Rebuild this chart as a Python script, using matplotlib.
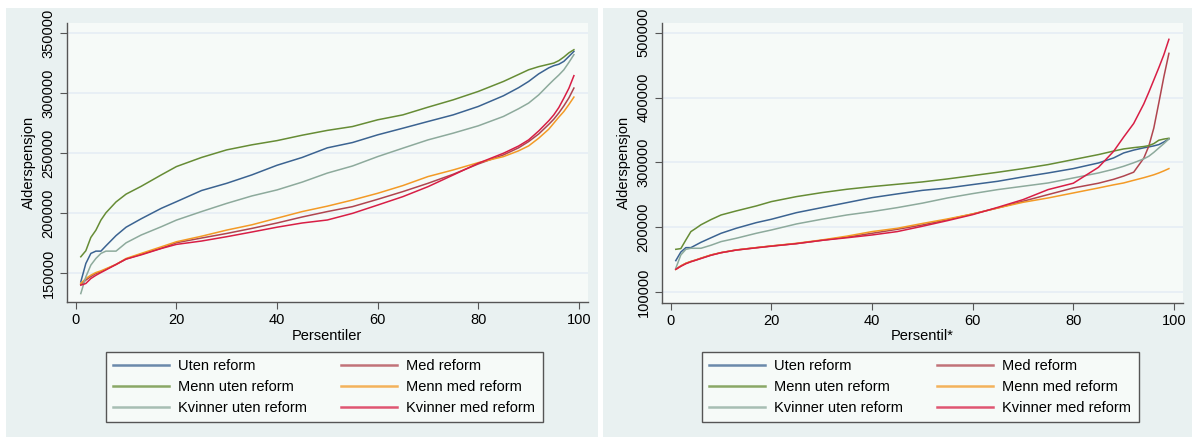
import matplotlib.pyplot as plt
from matplotlib.patches import Rectangle

plt.rcParams['font.family'] = ['Liberation Sans', 'DejaVu Sans']

# percentiles used for the read-off points
pct = [1, 2, 3, 4, 5, 6, 8, 10, 13, 17, 20, 25, 30, 35, 40, 45, 50, 55, 60, 65,
       70, 75, 80, 85, 88, 90, 92, 94, 95, 96, 97, 98, 99]

labels = ["Uten reform", "Med reform", "Menn uten reform", "Menn med reform",
          "Kvinner uten reform", "Kvinner med reform"]
colors = ["#3b6391", "#b0454f", "#668c35", "#f39a26", "#8daa9c", "#d81e45"]

# left panel: Persentiler
left_uten = [143000, 158300, 166700, 168600, 168600, 173000, 181500, 188500, 195500, 204200, 209700,
             219000, 225000, 232000, 240000, 246500, 254500, 258900, 265300, 270800, 276400, 281900,
             288900, 297800, 304500, 309700, 316000, 321000, 322800, 324000, 326400, 330500, 334700]
left_med = [141000, 144500, 147500, 150000, 151500, 153500, 157500, 162000, 166000, 171000, 175600,
            179500, 183300, 187500, 192000, 197000, 201500, 205600, 211700, 218100, 225000, 232500,
            241100, 248600, 254500, 259700, 266000, 274000, 278300, 283500, 289400, 296000, 304200]
left_menn_uten = [163900, 168900, 180000, 186000, 194400, 200500, 209500, 216000, 222500, 232000, 238900,
                  246500, 252800, 257000, 260500, 265000, 269000, 272200, 277800, 281900, 288300, 294400,
                  301400, 309700, 315500, 319400, 322000, 324000, 325000, 327000, 330000, 333500, 336100]
left_menn_med = [141700, 145800, 148600, 150800, 152200, 154000, 157500, 162500, 166700, 172200, 176400,
                 181000, 186100, 190500, 196000, 201500, 206000, 211100, 216700, 223100, 230600, 236100,
                 242200, 247200, 252000, 256100, 262500, 270000, 275000, 280000, 284700, 290500, 296700]
left_kv_uten = [133300, 147200, 157000, 162500, 166700, 168600, 168600, 175500, 182000, 188900, 194400,
                201500, 208300, 214500, 219500, 226000, 233500, 239400, 247200, 254200, 261100, 266700,
                272800, 280600, 287000, 291700, 298500, 307000, 311100, 315000, 319400, 325500, 332000]
left_kv_med = [140300, 141700, 145800, 148500, 150800, 153000, 157500, 162000, 165500, 170800, 174200,
               177000, 180600, 184500, 188500, 192000, 194500, 200000, 206900, 213900, 222200, 231900,
               241700, 250000, 256000, 261100, 268500, 277000, 281900, 288000, 295800, 304000, 314500]

# right panel: Persentil*
right_uten = [148800, 162000, 168800, 168800, 172900, 177000, 184000, 190900, 198600, 207300, 212500,
              222700, 230400, 238100, 245800, 251500, 257000, 260700, 265900, 271000, 277700, 283800,
              290500, 299200, 306900, 314600, 319000, 322500, 323900, 325500, 327500, 331500, 336200]
right_med = [135400, 140600, 144700, 147500, 149800, 152500, 157500, 161100, 165200, 168800, 171400,
             175000, 180000, 185000, 190900, 197000, 203700, 211900, 220700, 229900, 240200, 250500,
             260700, 268000, 274000, 279000, 285000, 306500, 325000, 353000, 392000, 432000, 468000]
right_menn_uten = [166200, 167300, 180600, 193500, 198600, 204000, 212000, 219100, 225300, 233000, 239700,
                   247400, 253500, 258700, 262800, 266400, 270000, 274600, 279700, 284900, 290500, 296700,
                   304400, 312100, 317500, 320800, 322800, 324500, 325900, 329000, 334200, 336000, 337200]
right_menn_med = [135400, 140600, 144700, 147500, 149800, 152500, 157500, 161100, 165200, 168800, 171400,
                  175500, 180600, 186500, 193500, 198600, 206000, 213000, 220700, 229900, 238600, 245300,
                  253000, 260700, 265500, 268400, 272500, 276500, 278700, 281000, 283800, 287000, 290500]
right_kv_uten = [137000, 157500, 166200, 167800, 167800, 167800, 172500, 178100, 183200, 190900, 196000,
                 205300, 212500, 219100, 224300, 230400, 237300, 245300, 252000, 258200, 263300, 268400,
                 276100, 283800, 289500, 294100, 299500, 305500, 309500, 315500, 322300, 329000, 336200]
right_kv_med = [135400, 140000, 144000, 147000, 149500, 152000, 157000, 161000, 165000, 168500, 171000,
                175000, 180000, 184000, 188300, 193500, 201700, 210400, 219600, 230900, 242700, 258200,
                268000, 292500, 317000, 339000, 360000, 390000, 408000, 427000, 446000, 466000, 489600]

left_series = [left_uten, left_med, left_menn_uten, left_menn_med, left_kv_uten, left_kv_med]
right_series = [right_uten, right_med, right_menn_uten, right_menn_med, right_kv_uten, right_kv_med]

W, H = 1192, 437
fig = plt.figure(figsize=(W / 100, H / 100), dpi=100, facecolor='white')

outer_bg = '#e9f1f1'
inner_bg = '#f6faf8'
fig.patches.append(Rectangle((6 / W, 0), 592 / W, 1 - 8 / H, transform=fig.transFigure,
                             facecolor=outer_bg, edgecolor='none', zorder=-10))
fig.patches.append(Rectangle((603 / W, 0), 589 / W, 1 - 8 / H, transform=fig.transFigure,
                             facecolor=outer_bg, edgecolor='none', zorder=-10))


def panel(rect, series, yticks, ylim, xlabel, leg_x):
    ax = fig.add_axes(rect)
    ax.set_facecolor(inner_bg)
    lines = []
    for vals, lab, col in zip(series, labels, colors):
        ln, = ax.plot(pct, vals, color=col, lw=1.1, label=lab)
        lines.append(ln)
    ax.set_xlim(-1.8, 101.8)
    ax.set_ylim(*ylim)
    ax.set_xticks([0, 20, 40, 60, 80, 100])
    ax.set_yticks(yticks)
    ax.set_yticklabels([str(v) for v in yticks], rotation=90, va='center')
    ax.grid(axis='y', color='#e6edf5', lw=1.2)
    ax.set_axisbelow(True)
    for s in ['top', 'right']:
        ax.spines[s].set_visible(False)
    for s in ['left', 'bottom']:
        ax.spines[s].set_color('#555555')
        ax.spines[s].set_linewidth(1.0)
    ax.tick_params(direction='out', length=5, color='#555555', labelsize=10.5, pad=3)
    ax.set_xlabel(xlabel, fontsize=10.5, labelpad=1)
    ax.set_ylabel('Alderspensjon', fontsize=10.5, labelpad=4)
    order = [0, 2, 4, 1, 3, 5]
    leg = fig.legend([lines[i] for i in order], [labels[i] for i in order], ncol=2,
                     loc='upper left', bbox_to_anchor=(leg_x / W, 1 - 352 / H), borderaxespad=0,
                     fontsize=10.5, handlelength=3.85, labelspacing=0.46, handletextpad=0.62,
                     columnspacing=2.3, fancybox=False, framealpha=1, facecolor=inner_bg,
                     edgecolor='#555555', borderpad=0.5)
    leg.get_frame().set_linewidth(1.0)
    for ln in leg.get_lines():
        ln.set_linewidth(1.8)
        ln.set_alpha(0.75)
    return ax


panel([66.7 / W, 1 - 302 / H, (588 - 66.7) / W, (302 - 23) / H], left_series,
      [150000, 200000, 250000, 300000, 350000], (126300, 358300), 'Persentiler', 106)
panel([661.7 / W, 1 - 302.7 / H, (1183 - 661.7) / W, (302.7 - 22.7) / H], right_series,
      [100000, 200000, 300000, 400000, 500000], (84000, 515200), 'Persentil*', 702)

plt.savefig('out.png', dpi=100, facecolor='white')
